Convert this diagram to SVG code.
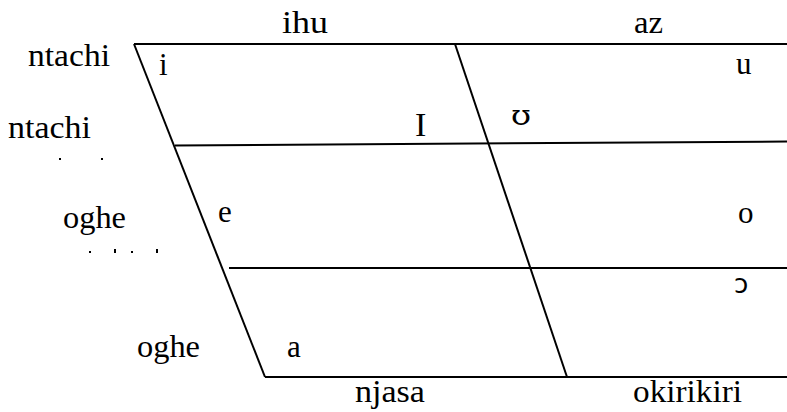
<svg xmlns="http://www.w3.org/2000/svg" width="787" height="412" viewBox="0 0 787 412">
<style>
.t{font-size:31px;fill:#000}
.ipa{font-family:'DejaVu Sans',sans-serif;font-size:26px;fill:#000}
.ln{stroke:#000;stroke-width:2;fill:none}
</style>
<rect width="787" height="412" fill="#fff"/>
<g id="connectors">
<line class="ln" x1="134" y1="44" x2="787" y2="44"/>
<line class="ln" x1="134" y1="44" x2="265" y2="377"/>
<line class="ln" x1="175" y1="145.5" x2="787" y2="141.5"/>
<line class="ln" x1="229" y1="268" x2="787" y2="268"/>
<line class="ln" x1="265" y1="377" x2="787" y2="377"/>
<line class="ln" x1="455" y1="44" x2="567" y2="377"/>
</g>
<g id="labels" font-family="Liberation Serif, Times New Roman, serif">
<text class="t" x="282" y="33" textLength="46" lengthAdjust="spacingAndGlyphs">ihu</text>
<text class="t" x="634" y="33" textLength="29" lengthAdjust="spacingAndGlyphs">az</text>
<text class="t" x="28" y="66" textLength="82" lengthAdjust="spacingAndGlyphs">ntachi</text>
<text class="t" x="8" y="138" textLength="83" lengthAdjust="spacingAndGlyphs">ntachi</text>
<text class="t" x="63" y="228" textLength="63" lengthAdjust="spacingAndGlyphs">oghe</text>
<text class="t" x="137" y="357" textLength="63" lengthAdjust="spacingAndGlyphs">oghe</text>
<text class="t" x="355" y="402" textLength="70" lengthAdjust="spacingAndGlyphs">njasa</text>
<text class="t" x="633" y="402" textLength="109" lengthAdjust="spacingAndGlyphs">okirikiri</text>
</g>
<g id="vowels" font-family="Liberation Serif, Times New Roman, serif">
<text class="t" x="159" y="75">i</text>
<text class="t" x="736" y="74">u</text>
<text class="t" x="415" y="136" style="font-size:34px">I</text>
<text class="t" x="511" y="125" style="font-family:'DejaVu Serif',serif;font-size:27px" textLength="20" lengthAdjust="spacingAndGlyphs">ʊ</text>
<text class="t" x="218" y="222">e</text>
<text class="t" x="738" y="223">o</text>
<text class="ipa" x="734" y="293">ɔ</text>
<text class="t" x="287" y="357">a</text>
</g>
<g id="dots" fill="#000">
<rect x="59" y="158" width="2" height="2"/>
<rect x="101" y="158" width="2" height="2"/>
<rect x="89" y="251" width="2" height="2"/>
<rect x="114" y="249" width="2" height="4"/>
<rect x="131" y="251" width="2" height="2"/>
<rect x="156" y="249" width="2" height="4"/>
</g>
</svg>
